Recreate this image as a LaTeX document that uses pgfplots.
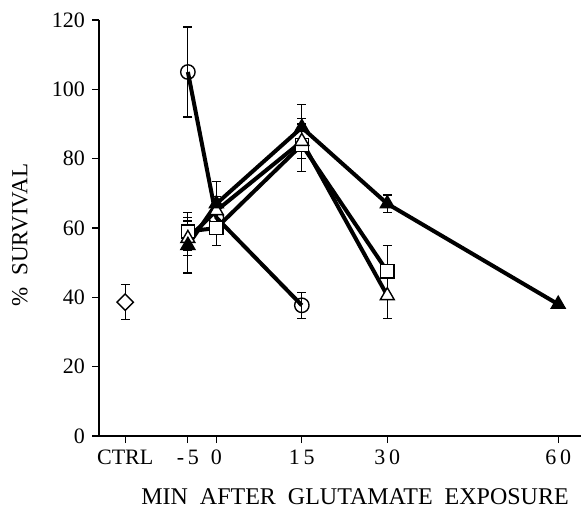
\documentclass[border=0pt]{standalone}
\usepackage{pgfplots}
\pgfplotsset{compat=1.18}
\usepackage{fontspec}
\setmainfont{Liberation Serif}
\begin{document}
\begin{tikzpicture}[x=1pt,y=1pt]
\path[use as bounding box] (-49.5,-37) rectangle (241,218);
\begin{axis}[
  at={(0,0)}, anchor=south west,
  scale only axis, width=241pt, height=208pt,
  xmin=-20.6, xmax=64, ymin=0, ymax=120,
  axis x line*=bottom, axis y line*=left,
  xtick={-16,-5,0,15,30,60},
  xticklabels={CTRL,{-\,5},0,{1\,5},{3\,0},{6\,0}},
  ytick={0,20,40,60,80,100,120},
  tick align=outside, major tick length=3.5pt,
  tick style={black, line width=0.6pt},
  axis line style={line width=0.8pt},
  tick label style={font=\fontsize{11}{13}\selectfont},
  /pgf/number format/assume math mode=true,
  clip=false,
  error bars/error bar style={line width=0.6pt, solid, black},
  error bars/error mark options={rotate=90, mark size=2.2pt, line width=0.6pt, black},
]
% circles
\addplot[black, line width=2pt, mark=o, mark size=3.6pt, mark options={fill=white, line width=0.7pt},
  error bars/.cd, y dir=both, y explicit]
  coordinates {(-5,105) +- (0,13) (0,63) +- (0,3) (15,37.7) +- (0,3.8)};
% squares
\addplot[black, line width=2pt, mark=square*, mark size=3.3pt, mark options={fill=white, line width=0.7pt},
  error bars/.cd, y dir=both, y explicit]
  coordinates {(-5,59) +- (0,5.5) (0,60) +- (0,5) (15,84) +- (0,7.6) (30,47.5) +- (0,7.5)};
% open triangles
\addplot[black, line width=2pt, mark=triangle*, mark size=4pt, mark options={fill=white, line width=0.7pt},
  error bars/.cd, y dir=both, y explicit]
  coordinates {(-5,57) +- (0,5) (0,65) +- (0,4) (15,85) +- (0,5) (30,40.5) +- (0,6.5)};
% filled triangles
\addplot[black, line width=2pt, mark=triangle*, mark size=4pt, mark options={fill=black, line width=0.7pt},
  error bars/.cd, y dir=both, y explicit]
  coordinates {(-5,55) +- (0,8) (0,67) +- (0,6.5) (15,89) +- (0,6.7) (30,67) +- (0,2.5) (60,38) +- (0,0)};
% control diamond
\addplot[black, only marks, mark=square*, mark size=2.9pt, mark options={rotate=45, fill=white, line width=0.7pt},
  error bars/.cd, y dir=both, y explicit]
  coordinates {(-16,38.6) +- (0,5)};
\end{axis}
\node[font=\fontsize{12}{14}\selectfont] at (128,-30.5) {MIN\ \ AFTER\ \ GLUTAMATE\ \ EXPOSURE};
\node[font=\fontsize{11.5}{13}\selectfont, rotate=90] at (-39.5,100.5) {\%\ \ SURVIVAL};
\end{tikzpicture}
\end{document}
